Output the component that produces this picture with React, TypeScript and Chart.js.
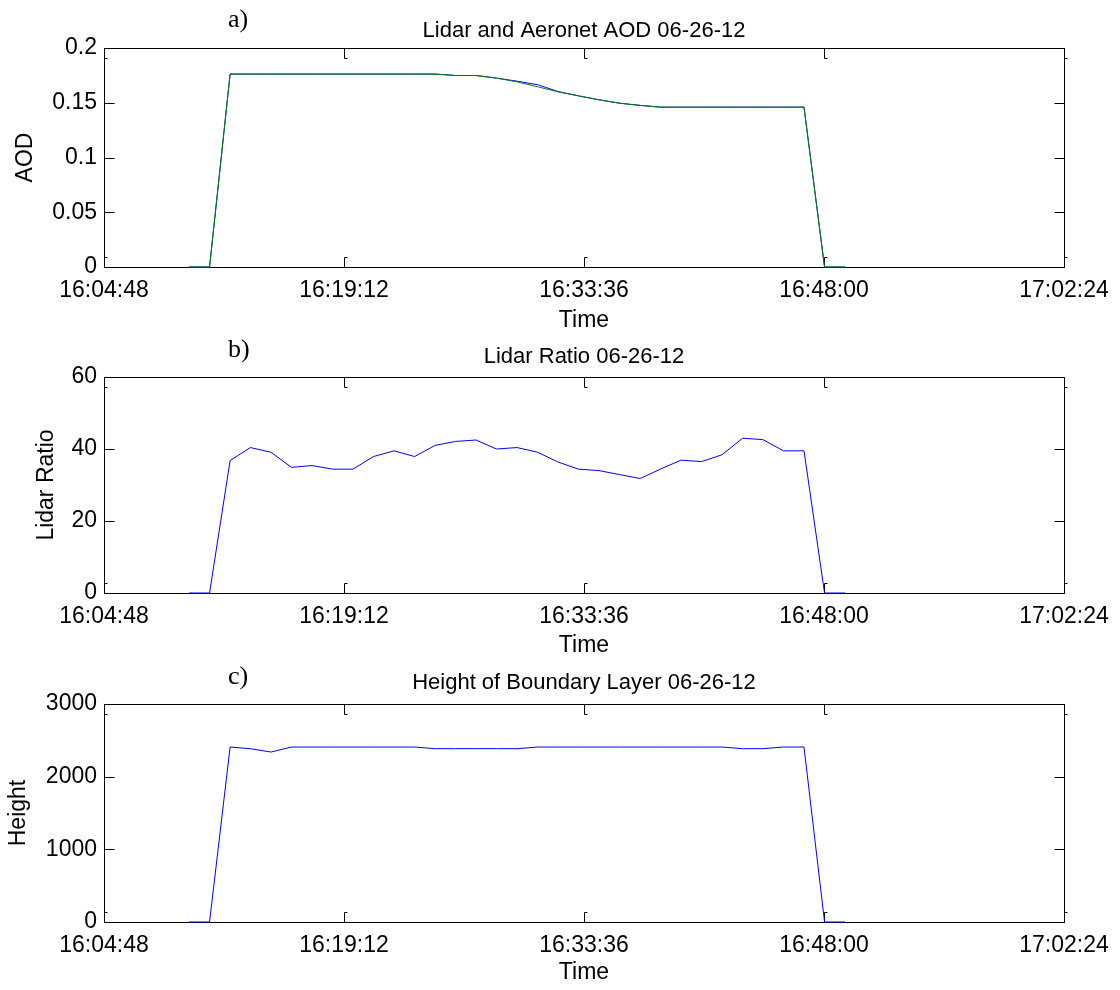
import React, { useEffect, useRef } from "react";
import { Chart, registerables } from "chart.js";

Chart.register(...registerables);

// ---------- data ----------
const TIMES = [
  "16:09:54", "16:11:08", "16:12:22", "16:13:35", "16:14:49", "16:16:03", "16:17:17",
  "16:18:31", "16:19:44", "16:20:58", "16:22:12", "16:23:26", "16:24:40", "16:25:53",
  "16:27:07", "16:28:21", "16:29:35", "16:30:49", "16:32:02", "16:33:16", "16:34:30",
  "16:35:44", "16:36:58", "16:38:11", "16:39:25", "16:40:39", "16:41:53", "16:43:07",
  "16:44:20", "16:45:34", "16:46:48", "16:48:02", "16:49:16",
];

const AOD_LIDAR = [
  0, 0, 0.1762, 0.1762, 0.1762, 0.1762, 0.1762, 0.1762, 0.1762, 0.1762, 0.1762, 0.1762,
  0.1762, 0.1749, 0.1749, 0.1725, 0.1697, 0.1665, 0.1603, 0.1563, 0.1527, 0.1496, 0.1476,
  0.146, 0.146, 0.146, 0.146, 0.146, 0.146, 0.146, 0.146, 0, 0,
];

const AOD_AERONET = [
  0, 0, 0.1762, 0.1762, 0.1762, 0.1762, 0.1762, 0.1762, 0.1762, 0.1762, 0.1762, 0.1762,
  0.1762, 0.1749, 0.1749, 0.1725, 0.1691, 0.1646, 0.16, 0.1563, 0.1527, 0.1496, 0.1476,
  0.146, 0.146, 0.146, 0.146, 0.146, 0.146, 0.146, 0.146, 0, 0,
];

const LIDAR_RATIO = [
  0, 0, 36.8, 40.4, 39.1, 34.9, 35.4, 34.4, 34.4, 37.9, 39.5, 37.9, 41.0, 42.1, 42.5,
  40.0, 40.4, 39.1, 36.4, 34.4, 34.0, 32.9, 31.8, 34.4, 36.9, 36.5, 38.4, 43.0, 42.6,
  39.5, 39.5, 0, 0,
];

const BL_HEIGHT = [
  0, 0, 2408, 2385, 2339, 2408, 2408, 2408, 2408, 2408, 2408, 2408, 2385, 2385, 2385,
  2385, 2385, 2408, 2408, 2408, 2408, 2408, 2408, 2408, 2408, 2408, 2408, 2385, 2385,
  2408, 2408, 0, 0,
];

const X_MIN = "16:04:48";
const X_MAX = "17:02:24";
const X_STEP = "00:14:24";

const TITLES = [
  "Lidar and Aeronet AOD 06-26-12",
  "Lidar Ratio 06-26-12",
  "Height of Boundary Layer 06-26-12",
];
const LETTERS = ["a)", "b)", "c)"];
const Y_LABELS = ["AOD", "Lidar Ratio", "Height"];
const X_LABEL = "Time";

// ---------- helpers ----------
const toSec = (t: string) => {
  const [h, m, s] = t.split(":").map(Number);
  return h * 3600 + m * 60 + s;
};
const pad2 = (n: number) => String(n).padStart(2, "0");
const fmtTime = (v: number) => {
  const s = Math.round(v);
  return `${pad2(Math.floor(s / 3600))}:${pad2(Math.floor((s % 3600) / 60))}:${pad2(s % 60)}`;
};

const SANS = '"Liberation Sans", Arial, Helvetica, sans-serif';
const SERIF = '"Liberation Serif", "Times New Roman", serif';

const matlabPlugin = {
  id: "matlab",
  beforeDatasetsDraw(chart: any) {
    const { ctx, chartArea } = chart;
    const { left, right, top, bottom } = chartArea;
    const xs = chart.scales.x;
    const ys = chart.scales.y;
    const tl = 10;
    ctx.save();
    ctx.strokeStyle = "#000";
    ctx.lineWidth = 1;
    const L = Math.round(left) + 0.5;
    const R = Math.round(right) + 0.5;
    const T = Math.round(top) + 0.5;
    const B = Math.round(bottom) + 0.5;
    ctx.beginPath();
    ctx.rect(L, T, R - L, B - T);
    ctx.stroke();
    ctx.beginPath();
    ys.ticks.forEach((t: any) => {
      const py = Math.round(ys.getPixelForValue(t.value)) + 0.5;
      ctx.moveTo(L, py);
      ctx.lineTo(L + tl, py);
      ctx.moveTo(R, py);
      ctx.lineTo(R - tl, py);
    });
    xs.ticks.forEach((t: any) => {
      const px = Math.round(xs.getPixelForValue(t.value)) + 0.5;
      ctx.moveTo(px, B);
      ctx.lineTo(px, B - tl);
      ctx.lineTo(px + 3, B - tl);
      ctx.moveTo(px, T);
      ctx.lineTo(px, T + tl);
      ctx.lineTo(px + 3, T + tl);
    });
    ctx.stroke();
    ctx.restore();
  },
  afterDraw(chart: any, _args: any, opts: any) {
    const { ctx } = chart;
    ctx.save();
    ctx.fillStyle = "#000";
    ctx.textBaseline = "middle";
    ctx.textAlign = "center";
    ctx.font = `${opts.titleSize}px ${SANS}`;
    ctx.fillText(opts.title, opts.titleX, opts.titleY);
    ctx.textAlign = "left";
    ctx.font = `${opts.letterSize}px ${SERIF}`;
    ctx.fillText(opts.letter, opts.letterX, opts.letterY);
    ctx.restore();
  },
};

type PanelSpec = {
  top: number;
  height: number;
  plotTop: number;
  plotBottom: number;
  yMax: number;
  yStep: number;
  yFmt: (v: number) => string;
  yTitlePad: number;
  xTitleCenter: number;
  titleY: number;
  letterY: number;
  idx: number;
  datasets: { values: number[]; color: string }[];
};

const FONT = 23;

function makeConfig(p: PanelSpec) {
  const xh = p.top + p.height - p.plotBottom;
  const xTitlePad = p.top + p.height - p.xTitleCenter - FONT / 2;
  return {
    type: "line",
    data: {
      datasets: p.datasets.map((d) => ({
        data: TIMES.map((t, i) => ({ x: toSec(t), y: d.values[i] })),
        borderColor: d.color,
        backgroundColor: d.color,
        borderWidth: 1,
        pointRadius: 0,
        tension: 0,
        fill: false,
        clip: 6,
      })),
    },
    options: {
      animation: false,
      responsive: false,
      maintainAspectRatio: false,
      events: [],
      layout: { padding: { left: 0, right: 56, top: p.plotTop - p.top, bottom: 0 } },
      plugins: {
        legend: { display: false },
        tooltip: { enabled: false },
        title: { display: false },
        matlab: {
          title: TITLES[p.idx],
          titleSize: 22,
          titleX: 584,
          titleY: p.titleY - p.top,
          letter: LETTERS[p.idx],
          letterSize: 26,
          letterX: 228,
          letterY: p.letterY - p.top,
        },
      },
      scales: {
        x: {
          type: "linear",
          position: "bottom",
          min: toSec(X_MIN),
          max: toSec(X_MAX),
          grid: { display: false, drawTicks: false },
          border: { display: false },
          ticks: {
            stepSize: toSec(X_STEP),
            callback: (v: number) => fmtTime(v),
            font: { family: SANS, size: FONT },
            color: "#000",
            padding: 10,
            maxRotation: 0,
            autoSkip: false,
          },
          title: {
            display: true,
            text: X_LABEL,
            font: { family: SANS, size: FONT, lineHeight: 1 },
            color: "#000",
            padding: { top: 0, bottom: xTitlePad },
          },
          afterFit: (s: any) => {
            s.height = xh;
          },
        },
        y: {
          type: "linear",
          min: 0,
          max: p.yMax,
          grid: { display: false, drawTicks: false },
          border: { display: false },
          ticks: {
            stepSize: p.yStep,
            callback: (v: number) => p.yFmt(v),
            font: { family: SANS, size: FONT },
            color: "#000",
            padding: 7,
          },
          title: {
            display: true,
            text: Y_LABELS[p.idx],
            font: { family: SANS, size: FONT, lineHeight: 1 },
            color: "#000",
            padding: { top: p.yTitlePad, bottom: 0 },
          },
          afterFit: (s: any) => {
            s.width = 104;
          },
        },
      },
    },
    plugins: [matlabPlugin],
  };
}

const PANELS: PanelSpec[] = [
  {
    idx: 0,
    top: 0,
    height: 340,
    plotTop: 48,
    plotBottom: 267,
    yMax: 0.2,
    yStep: 0.05,
    yFmt: (v) => String(Number(v.toFixed(2))),
    yTitlePad: 14,
    xTitleCenter: 321,
    titleY: 31,
    letterY: 20,
    datasets: [
      { values: AOD_AERONET, color: "#008000" },
      { values: AOD_LIDAR, color: "#0000ff" },
    ],
  },
  {
    idx: 1,
    top: 330,
    height: 340,
    plotTop: 377,
    plotBottom: 593,
    yMax: 60,
    yStep: 20,
    yFmt: (v) => String(Math.round(v)),
    yTitlePad: 35,
    xTitleCenter: 646,
    titleY: 357,
    letterY: 350,
    datasets: [{ values: LIDAR_RATIO, color: "#0000ff" }],
  },
  {
    idx: 2,
    top: 650,
    height: 340,
    plotTop: 704,
    plotBottom: 922,
    yMax: 3000,
    yStep: 1000,
    yFmt: (v) => String(Math.round(v)),
    yTitlePad: 7,
    xTitleCenter: 973,
    titleY: 683,
    letterY: 677,
    datasets: [{ values: BL_HEIGHT, color: "#0000ff" }],
  },
];

function Panel({ spec }: { spec: PanelSpec }) {
  const ref = useRef<HTMLCanvasElement | null>(null);
  useEffect(() => {
    if (!ref.current) return;
    const chart = new Chart(ref.current, makeConfig(spec) as any);
    return () => chart.destroy();
  }, [spec]);
  return (
    <canvas
      ref={ref}
      width={1120}
      height={spec.height}
      style={{ position: "absolute", left: 0, top: spec.top, width: 1120, height: spec.height }}
    />
  );
}

export default function App() {
  return (
    <div
      style={{
        position: "absolute",
        left: 0,
        top: 0,
        width: 1120,
        height: 990,
        background: "#fff",
      }}
    >
      {PANELS.map((p) => (
        <Panel key={p.idx} spec={p} />
      ))}
    </div>
  );
}
